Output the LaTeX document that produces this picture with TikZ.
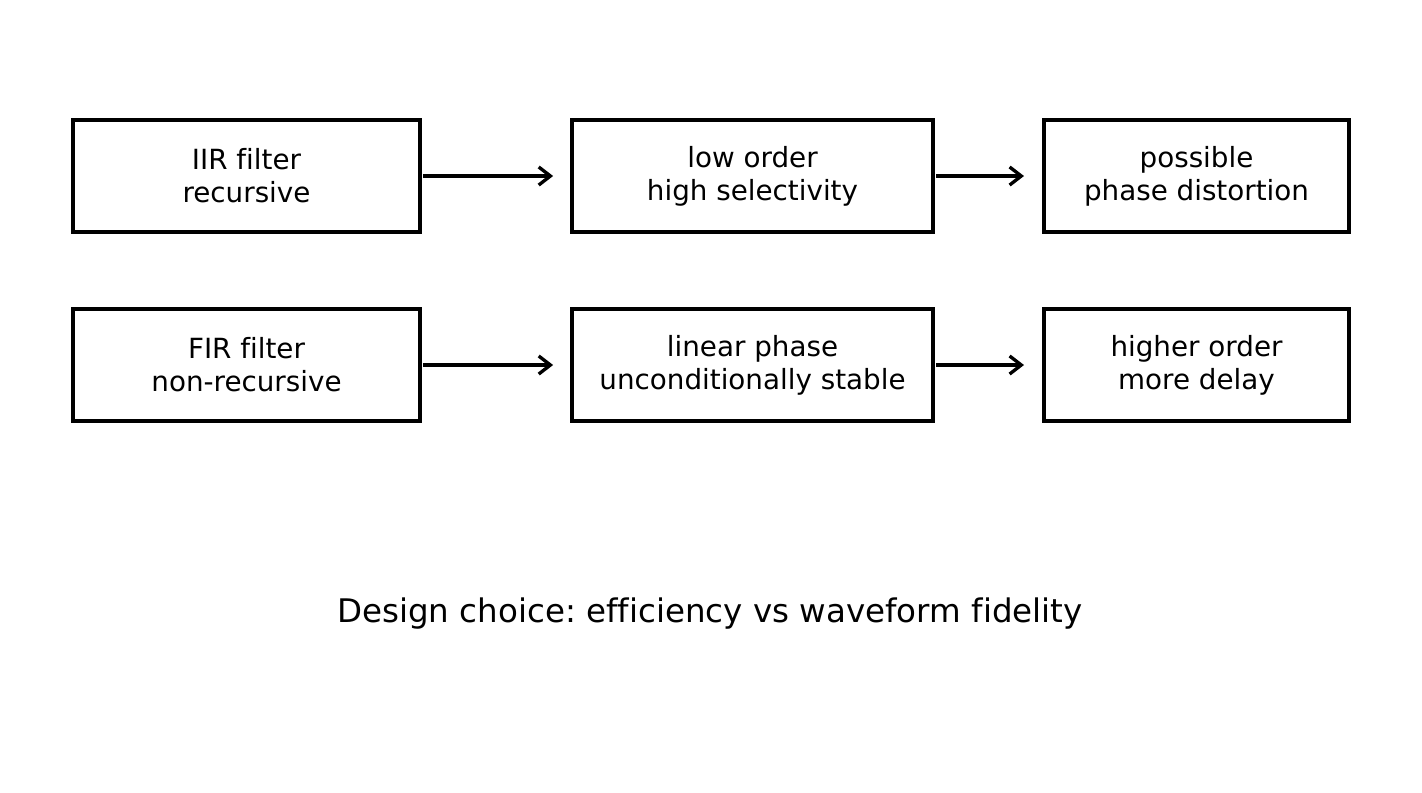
\documentclass[tikz,border=0pt]{standalone}
\usepackage{fontspec}
\setmainfont[Ligatures={NoCommon}]{DejaVu Sans}
\usetikzlibrary{arrows.meta}
\begin{document}
\frenchspacing
\begin{tikzpicture}[x=0.36pt,y=-0.36pt,
  box/.style={draw=black,line width=1.3pt,inner sep=0pt,outer sep=0pt,minimum height=40.32pt,align=center,font=\fontsize{10}{11.9}\selectfont},
  conn/.style={line width=1.2pt,-{Straight Barb[length=4.2pt,width=6.5pt,line width=1.2pt]},shorten <=1.2pt}]
\useasboundingbox (0,0) rectangle (1422,792);
\node[box,minimum width=124.92pt] (iir) at (246.5,176) {IIR filter\\recursive};
\node[box,minimum width=129.96pt] (low) at (752.5,176) {low order\\high selectivity};
\node[box,minimum width=109.8pt] (pos) at (1196.5,176) {possible\\phase distortion};
\node[box,minimum width=124.92pt] (fir) at (246.5,365) {FIR filter\\non-recursive};
\node[box,minimum width=129.96pt] (lin) at (752.5,365) {linear phase\\unconditionally stable};
\node[box,minimum width=109.8pt] (high) at (1196.5,365) {higher order\\more delay};
\draw[conn,shorten >=6.8pt] (iir) -- (low);
\draw[conn,shorten >=7.2pt] (low) -- (pos);
\draw[conn,shorten >=6.8pt] (fir) -- (lin);
\draw[conn,shorten >=7.2pt] (lin) -- (high);
\node[font=\fontsize{11.7}{14}\selectfont] (title) at (710,614) {Design choice: efficiency vs waveform fidelity};
\end{tikzpicture}
\end{document}
